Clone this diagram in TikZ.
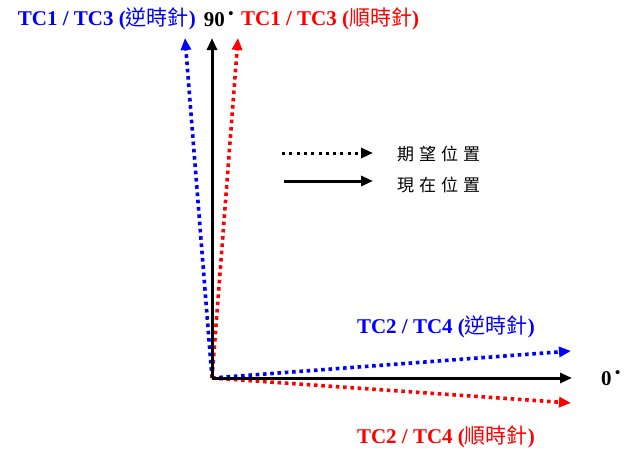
\documentclass[tikz,border=0pt]{standalone}
\usepackage{fontspec}
\setmainfont{Liberation Serif}
\newfontfamily\cjk{Noto Sans CJK TC}
\usetikzlibrary{arrows.meta}
\definecolor{myblue}{RGB}{0,0,255}
\definecolor{myred}{RGB}{255,0,0}
\begin{document}
\begin{tikzpicture}[x=1pt,y=-1pt,
  solidarr/.style={line width=3pt,-{Triangle[length=12pt,width=10pt]}},
  dotarr/.style={line width=3.6pt,dash pattern=on 3.6pt off 3.7pt,-{Triangle[length=12pt,width=10pt]}},
  lbl/.style={font=\fontsize{21}{24}\selectfont\bfseries,inner sep=0pt},
  leg/.style={font=\fontsize{17}{20}\selectfont\cjk,inner sep=0pt,anchor=west}]
\useasboundingbox (0,0) rectangle (630,450);
\coordinate (o) at (212,378);
\coordinate (up) at (212,38);
\coordinate (upb) at (185,38);
\coordinate (upr) at (238,38);
\coordinate (rt) at (572,378);
\coordinate (rtb) at (571,351);
\coordinate (rtr) at (571,403);
\draw[dotarr,myblue] (o) -- (upb);
\draw[dotarr,myred] (o) -- (upr);
\draw[dotarr,myblue] (o) -- (rtb);
\draw[dotarr,myred] (o) -- (rtr);
\draw[solidarr] (o) -- (up);
\draw[solidarr] (o) -- (rt);
% labels
\node[lbl,myblue,anchor=east] (l1) at (196,19) {TC1 / TC3 ({\cjk\mdseries 逆時針})};
\node[lbl,anchor=center] (l90) at (219,19) {90\,\textsuperscript{\textbullet}};
\node[lbl,myred,anchor=west] (l2) at (241,19) {TC1 / TC3 ({\cjk\mdseries 順時針})};
\node[lbl,myblue] (l3) at (446,327) {TC2 / TC4 ({\cjk\mdseries 逆時針})};
\node[lbl,myred] (l4) at (446,437) {TC2 / TC4 ({\cjk\mdseries 順時針})};
\node[lbl,anchor=west] (l0) at (601,378) {0\,\textsuperscript{\textbullet}};
% legend
\coordinate (d1) at (282,153);
\coordinate (d2) at (373,153);
\coordinate (s1) at (284,181);
\coordinate (s2) at (373,181);
\draw[line width=3pt,dash pattern=on 3pt off 4.3pt,-{Triangle[length=12pt,width=10pt]}] (d1) -- (d2);
\draw[solidarr] (s1) -- (s2);
\node[leg] (t1) at (397,154) {期\hspace{5pt}望\hspace{5pt}位\hspace{5pt}置};
\node[leg] (t2) at (397,185) {現\hspace{5pt}在\hspace{5pt}位\hspace{5pt}置};
\end{tikzpicture}
\end{document}
